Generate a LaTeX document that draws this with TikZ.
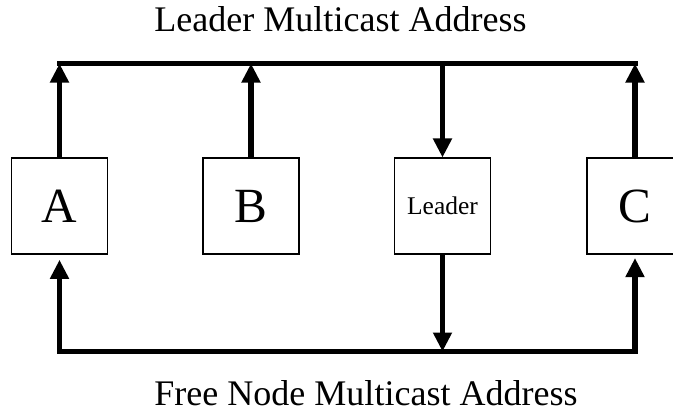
\documentclass[tikz,border=0pt]{standalone}
\usepackage{fontspec}
\setmainfont{Liberation Serif}
\usetikzlibrary{arrows.meta}

\tikzset{
    member/.style={draw, line width=0.6pt, minimum size=1.92cm, inner sep=0pt, font=\fontsize{28}{30}\selectfont},
    bus/.style={line width=3.3pt, line cap=rect},
    link/.style={line width=3.3pt, -{Triangle[length=0.38cm, width=0.36cm]}},
    caption/.style={anchor=base, inner sep=0pt, font=\fontsize{20.5}{22}\selectfont},
}

\begin{document}
\begin{tikzpicture}[x=0.02cm, y=-0.02cm]
    \useasboundingbox (0,0) rectangle (673,413);
    \clip (0,0) rectangle (673,413);

    % group members
    \node[member] (a) at (59.5,206) {A};
    \node[member] (b) at (251,206) {B};
    \node[member, font=\fontsize{14.5}{16}\selectfont] (leader) at (442.5,206) {Leader};
    \node[member] (c) at (635,206) {C};

    % bus taps
    \coordinate (topA) at (59.5,63.5);
    \coordinate (topB) at (251,63.5);
    \coordinate (topL) at (442.5,63.5);
    \coordinate (topC) at (635,63.5);
    \coordinate (botA) at (59.5,351.5);
    \coordinate (botL) at (442.5,351.5);
    \coordinate (botC) at (635,351.5);

    % the two multicast buses
    \draw[bus] (topA) -- (topC);
    \draw[bus] (botA) -- (botC);
    \node[caption] (lead) at (340.5,31) {Leader Multicast Address};
    \node[caption] (free) at (366,405) {Free Node Multicast Address};

    % traffic
    \draw[link] (a.north) -- (topA);
    \draw[link] (b.north) -- (topB);
    \draw[link] (c.north) -- (topC);
    \draw[link] (topL) -- (leader.north);
    \draw[link] (leader.south) -- (botL);
    \draw[link, shorten >=3] (botA) -- (a.south);
    \draw[link, shorten >=2] (botC) -- (c.south);
\end{tikzpicture}
\end{document}
